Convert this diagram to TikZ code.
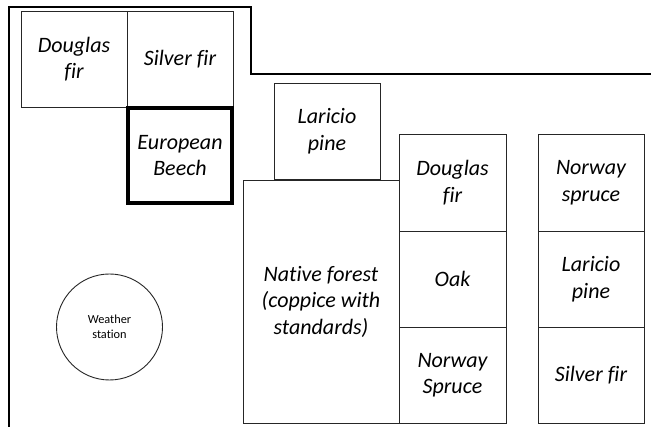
\documentclass[tikz,border=0pt]{standalone}
\usepackage{fontspec}
\setmainfont[Ligatures=NoCommon]{Carlito}
\begin{document}
\begin{tikzpicture}[x=1pt,y=-1pt,
  plot/.style={draw=black!85, line width=0.9pt, inner sep=0pt, align=center,
    font=\fontsize{22}{26.5}\selectfont\itshape},
  thickplot/.style={plot, draw=black, line width=3.4pt},
  station/.style={circle, draw=black!85, line width=0.9pt, inner sep=0pt,
    minimum size=106pt, align=center, font=\fontsize{12.3}{15.5}\selectfont}]
\useasboundingbox (0,0) rectangle (651,427);
\fill[white] (0,0) rectangle (651,427);
% outer boundary
\draw[line width=1.6pt] (9,427) -- (9,7) -- (251,7) -- (251,74) -- (651,74);
% top-left plots
\node[plot, minimum width=106pt, minimum height=96pt] (df1) at (74,59) {Douglas\\fir};
\node[plot, minimum width=106pt, minimum height=96pt] (sf1) at (180,59) {Silver fir};
\node[thickplot, minimum width=104pt, minimum height=95pt] (eb) at (180,155.5) {European\\Beech};
% Laricio pine top
\node[plot, minimum width=106pt, minimum height=96pt] (lp1) at (327,131) {Laricio\\pine};
% native forest
\node[plot, minimum width=156pt, minimum height=243pt] (nf) at (321,301.5) {Native forest\\(coppice with\\standards)};
% middle column
\node[plot, minimum width=107pt, minimum height=97pt] (df2) at (452.5,182.5) {Douglas\\fir};
\node[plot, minimum width=107pt, minimum height=96pt] (oak) at (452.5,279) {Oak};
\node[plot, minimum width=107pt, minimum height=96pt] (ns1) at (452.5,375) {Norway\\Spruce};
% right column
\node[plot, minimum width=106pt, minimum height=97pt] (ns2) at (591,182.5) {Norway\\spruce};
\node[plot, minimum width=106pt, minimum height=96pt] (lp2) at (591,279) {Laricio\\pine};
\node[plot, minimum width=106pt, minimum height=96pt] (sf2) at (591,375) {Silver fir};
% weather station
\node[station] (ws) at (109.5,327) {Weather\\station};
\end{tikzpicture}
\end{document}
